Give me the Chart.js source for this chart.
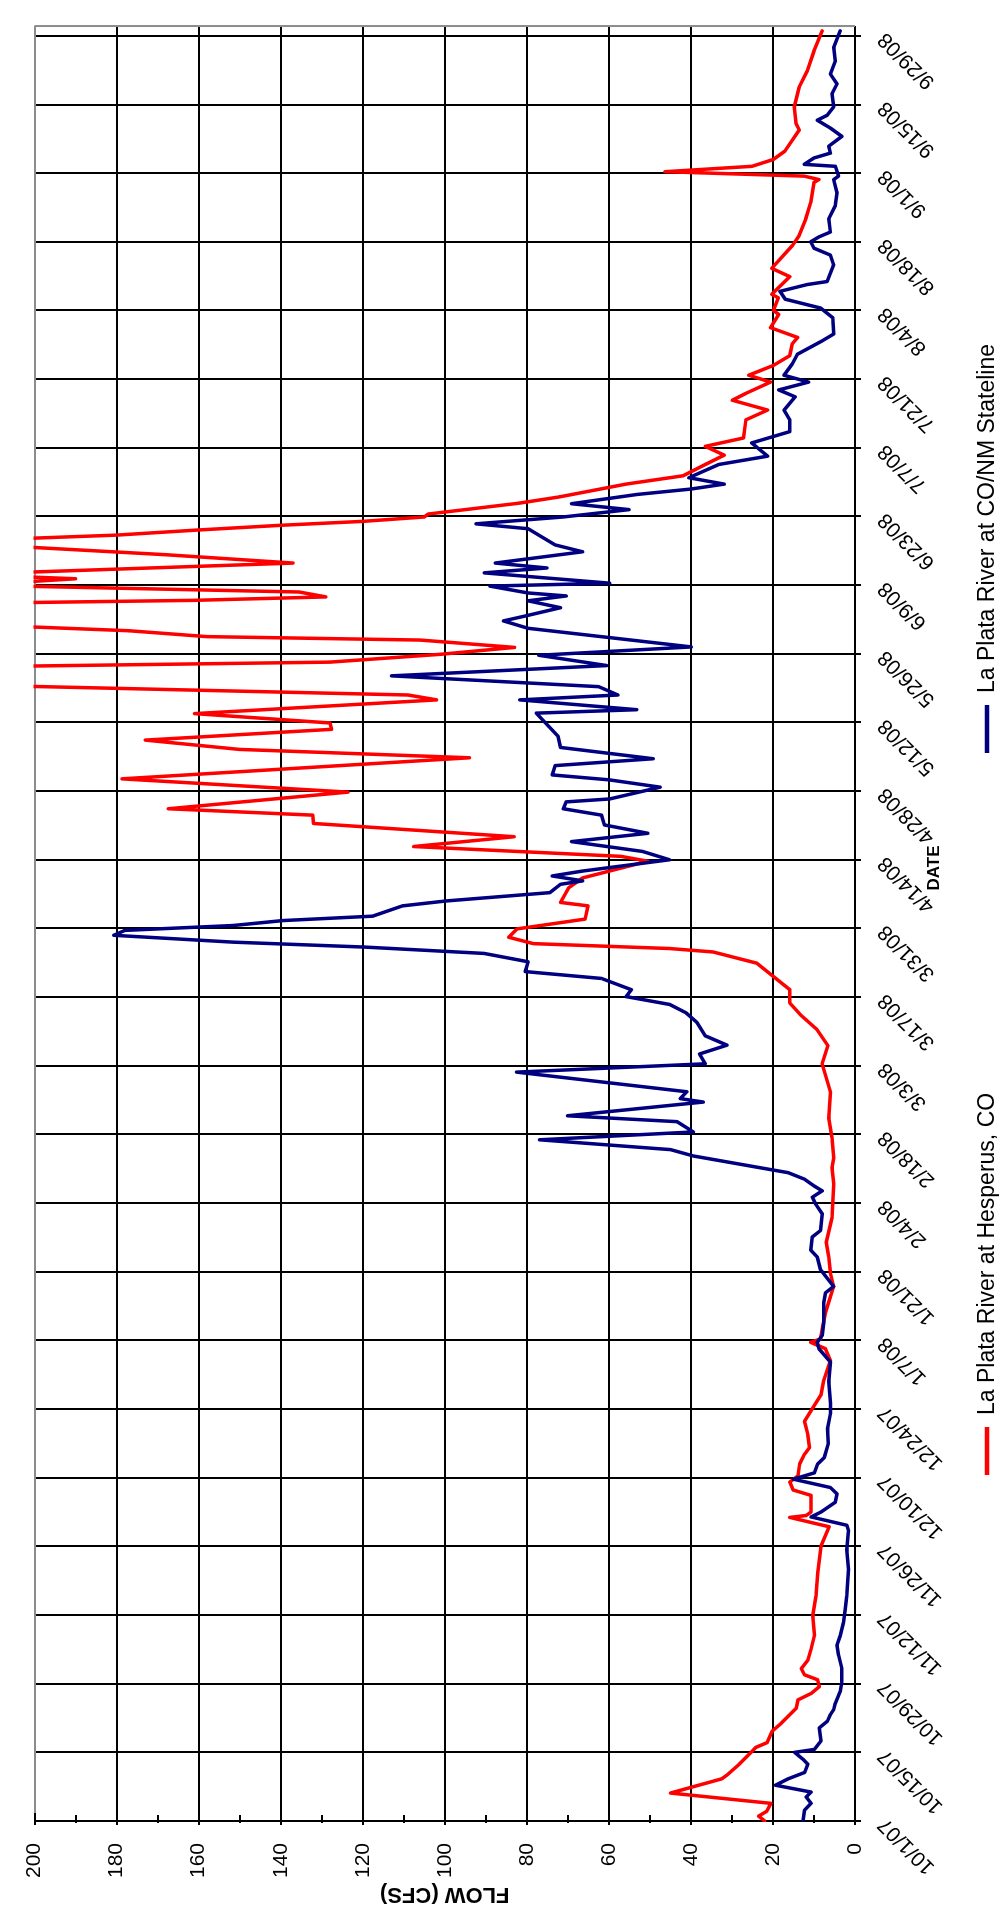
<!DOCTYPE html>
<html>
<head>
<meta charset="utf-8">
<script src="https://cdn.jsdelivr.net/npm/chart.js@4.4.1/dist/chart.umd.min.js"></script>
<style>
  html, body { margin: 0; padding: 0; background: #fff; overflow: hidden; }
  /* the chart is drawn landscape and turned a quarter turn to the left */
  #wrap { position: absolute; left: 0; top: 1913px; width: 1913px; height: 1005px;
          transform-origin: 0 0; transform: rotate(-90deg); }
</style>
</head>
<body>
<div id="wrap"><canvas id="flow-chart" width="1913" height="1005"></canvas></div>
<script>
// days counted from 10/1/07
const tickLabels = ["10/1/07", "10/15/07", "10/29/07", "11/12/07", "11/26/07", "12/10/07", "12/24/07",
  "1/7/08", "1/21/08", "2/4/08", "2/18/08", "3/3/08", "3/17/08", "3/31/08", "4/14/08", "4/28/08",
  "5/12/08", "5/26/08", "6/9/08", "6/23/08", "7/7/08", "7/21/08", "8/4/08", "8/18/08", "9/1/08",
  "9/15/08", "9/29/08"];

// La Plata River at Hesperus, CO
const hesperusDays = [
  0, 1, 2, 3.6, 5.7, 8.6, 9.3, 11.6, 14.3, 15,
  16, 18.3, 20, 23, 24.7, 26, 27.4, 28.8, 29.8, 31.1,
  32.8, 35.1, 37.8, 41.9, 45.9, 50.6, 56, 60, 61.9, 62.3,
  63, 66.4, 67.5, 69.1, 70.4, 72.8, 74.8, 76.1, 78.8, 81.5,
  84.8, 86.9, 89.9, 93.9, 96.3, 97.6, 98.3, 100.3, 103.7, 109,
  111.7, 115, 118, 123, 129.9, 133.2, 135.2, 139.3, 143.3, 148.7,
  154.4, 158.1, 161.4, 164.4, 166.8, 169.5, 172.2, 174.9, 177.2, 177.9,
  178.9, 180.2, 181.9, 183.9, 186.6, 187.3, 190.3, 192.3, 195.7, 196.7,
  198.7, 200.7, 203.4, 205.1, 206.4, 209.8, 212.5, 216.8, 218.5, 220.4,
  222.6, 223.9, 225.8, 228.6, 229.6, 232, 234, 235.4, 236.3, 237.9,
  239.3, 240.8, 241.5, 242.7, 244.5, 246.5, 248.3, 248.9, 249.6, 250.6,
  252, 253.3, 254, 254.6, 256.5, 258.2, 260.5, 261.4, 262.2, 263.2,
  264.2, 265, 265.9, 266.5, 268.7, 270, 272.6, 274.3, 276.3, 278.5,
  280.3, 282, 285.7, 287.7, 289.7, 291.1, 293.4, 294.8, 296.8, 298.8,
  301.2, 302.5, 304.5, 307.2, 308, 310.6, 311.3, 314.9, 316.6, 321.3,
  323.3, 326.7, 330, 334.1, 334.7, 335.4, 336.3, 337.4, 338.8, 340.5,
  344.8, 346.2, 349.5, 353.6, 356.9, 360.9, 365];
const hesperusFlow = [
  22, 23.5, 21.5, 20.5, 45, 32.5, 31.3, 28.2, 25, 24.2,
  21.4, 20.2, 17.9, 14.3, 13.9, 10.7, 8.7, 9.1, 12.3, 13.1,
  11.5, 10.7, 9.9, 10.3, 9.5, 9.1, 8.3, 6.3, 15.9, 11.9,
  10.7, 10.7, 15.1, 15.9, 13.9, 13.5, 12.3, 11.1, 11.5, 12.3,
  9.9, 8.3, 7.6, 6.0, 7.2, 10.8, 8.4, 8.0, 7.2, 5.2,
  6.0, 6.4, 7.0, 5.6, 5.2, 5.6, 5.2, 5.6, 6.4, 6.0,
  8.0, 6.6, 9.3, 13.3, 15.9, 15.9, 19.9, 23.9, 34.6, 45.2,
  78.4, 84.4, 82.4, 65.8, 65.1, 71.8, 69.8, 66.4, 50.5, 57.1,
  107.6, 83.1, 132, 132.2, 167.4, 123.6, 178.7, 94, 150, 173,
  127.6, 128, 161, 102, 109, 235, 228, 210, 128, 101,
  83, 106, 158, 177, 232, 238, 215, 161, 129, 135.5,
  215, 190, 212, 203, 137, 168, 218, 206, 180, 161,
  140, 120, 105, 104, 82, 72, 55.8, 41.9, 37.2, 31.9,
  36.5, 27.2, 26.6, 21.3, 29.9, 26.6, 20.6, 25.9, 19.9, 15.9,
  15.3, 14, 20.6, 18.6, 19.9, 18.7, 20.3, 15.9, 20.3, 15.2,
  13.6, 12, 10.8, 10, 8.8, 12.4, 46.3, 25.1, 19.9, 17.1,
  13.6, 14.4, 14.8, 13.6, 11.6, 10, 8];

// La Plata River at CO/NM Stateline
const statelineDays = [
  0, 2.2, 3.6, 4.9, 5.9, 7.3, 8.6, 9.9, 11.6, 12.6,
  14, 14.6, 16.3, 19, 20.4, 21.7, 22.7, 24, 26.4, 28.4,
  31.1, 33.8, 35.8, 37.8, 40.5, 43.2, 45.9, 51.3, 55.3, 59.3,
  60.3, 62, 63, 65, 66.7, 68, 69.7, 71, 72.8, 74.1,
  77, 80, 83, 85.2, 89.6, 93.6, 96.3, 97.6, 99, 101.6,
  105.7, 107.7, 109, 112.4, 115, 116.4, 119.1, 120.4, 123.8, 125.8,
  127.2, 128.5, 129.5, 130.9, 132.2, 135.6, 136.9, 138.9, 140.5, 142.6,
  143.8, 146.6, 147.3, 148.7, 152.7, 154.4, 156.4, 158.2, 160.1, 162.8,
  164.8, 166.5, 168.1, 169.5, 171.8, 173.2, 175.2, 176.9, 178.2, 179.2,
  180.6, 181.6, 182.6, 183.6, 184.5, 186.6, 187.6, 189.3, 191, 191.7,
  192.7, 193.7, 196, 197.7, 199.7, 201.4, 203.1, 205.1, 206.4, 207.8,
  208.4, 210.8, 212.3, 213.3, 215.2, 216.6, 218.9, 221.2, 225.9, 226.6,
  228.6, 229.6, 231.3, 233.5, 235.6, 237.7, 239.4, 243.2, 244.7, 245.7,
  247.4, 248.8, 249.8, 250.4, 251.8, 252.4, 254.5, 255.5, 256.5, 258.8,
  260.2, 263.5, 264.5, 265.9, 267.4, 268.6, 270.5, 271.6, 272.6, 273.9,
  276.6, 278.3, 281, 283.3, 285.7, 287.7, 290.4, 291.8, 293.4, 294.8,
  297.1, 299.1, 301.8, 303.2, 306.5, 308.5, 310.3, 311.9, 313.3, 313.9,
  317.3, 319.3, 320.7, 322, 323, 324, 326.7, 329.4, 332, 334.7,
  335.4, 337.4, 337.8, 339.1, 340.1, 341.5, 343.5, 345.2, 346.8, 347.8,
  349.5, 352.2, 354.2, 356.2, 358.9, 361.6, 365];
const statelineFlow = [
  12.7, 12.3, 10.7, 11.9, 10.7, 19.4, 16.3, 12.3, 11.5, 12.7,
  14.7, 9.9, 8.3, 8.7, 6.7, 6.0, 5.2, 4.8, 3.6, 3.2,
  3.2, 4.0, 4.4, 3.6, 2.8, 2.4, 2.0, 1.6, 2.0, 1.6,
  2.0, 10.7, 8.3, 4.8, 4.4, 6.0, 15, 9.9, 9.1, 7.5,
  6.5, 6.7, 6.0, 6.0, 6.4, 6.0, 8.8, 9.2, 8.0, 7.6,
  7.6, 7.2, 5.2, 8.4, 9.2, 10.8, 10.4, 8.4, 8.0, 9.6,
  10.4, 8.0, 10, 12.4, 16.3, 39.4, 45, 76.9, 39.4, 43.4,
  70.1, 37, 42.6, 41, 82.5, 36.5, 37.9, 31.2, 36.5, 38.5,
  41.2, 45.2, 55.8, 54.5, 61.8, 80.4, 79.7, 90.4, 119.6, 151.5,
  180.7, 178, 151.5, 139.5, 117.6, 110.3, 99.7, 74.4, 71.8, 66.4,
  73.8, 66.4, 45.2, 51.8, 69.1, 50.5, 61.1, 61.8, 71.1, 70.4,
  59.8, 47.5, 60, 73.8, 73.1, 49.2, 71.8, 72.4, 77.7, 53.2,
  81.7, 57.8, 62.5, 113, 60.5, 77.1, 39.9, 79.7, 85.7, 80.4,
  71.8, 79.7, 70.4, 79.7, 89, 59.8, 90.4, 75.1, 87.7, 66.4,
  73.1, 79.7, 92.4, 71.1, 55.1, 69.1, 53, 39.9, 31.9, 40.5,
  33.2, 21.3, 25.2, 15.9, 15.9, 17.3, 14.6, 18.6, 11.3, 17.3,
  15.3, 14, 8, 5.2, 5.4, 8.4, 17, 18.3, 11.6, 6.8,
  5.2, 6, 10, 10.8, 8.8, 6, 6.4, 4.8, 4.4, 5.2,
  4, 4.8, 12.4, 10, 6, 6.4, 3.2, 6, 9.2, 6.8,
  5.2, 5.6, 4.4, 6, 4.8, 5.2, 3.6];

const font = "'Liberation Sans', Arial, sans-serif";

function toPoints(days, flow) {
  return days.map((d, i) => ({ x: d, y: flow[i] }));
}

// ticks that cross the axes, the grey frame, the legend and the DATE title
const framePlugin = {
  id: "frame",
  afterDraw(chart) {
    const ctx = chart.ctx;
    const x = chart.scales.x;
    const y = chart.scales.y;
    const area = chart.chartArea;
    ctx.save();

    ctx.strokeStyle = "#8c8c8c";
    ctx.lineWidth = 2;
    ctx.beginPath();
    ctx.moveTo(x.getPixelForValue(366), area.top);
    ctx.lineTo(x.getPixelForValue(366), area.bottom);
    ctx.stroke();

    ctx.strokeStyle = "#000";
    ctx.beginPath();
    for (let v = 0; v <= 200; v += 10) {
      const py = Math.round(y.getPixelForValue(v));
      const major = v % 20 === 0;
      ctx.moveTo(area.left - (major ? 4 : 2), py);
      ctx.lineTo(area.left + (major ? 8 : 6), py);
    }
    for (let d = 0; d <= 364; d += 14) {
      const px = Math.round(x.getPixelForValue(d));
      ctx.moveTo(px, area.bottom);
      ctx.lineTo(px, area.bottom + 6);
    }
    ctx.stroke();

    ctx.fillStyle = "#000";
    ctx.font = "bold 17px " + font;
    ctx.textAlign = "center";
    ctx.textBaseline = "middle";
    ctx.fillText("DATE", 1045, 934);

    const items = [
      { x: 438, label: chart.data.datasets[1].label, color: chart.data.datasets[1].borderColor },
      { x: 1160, label: chart.data.datasets[0].label, color: chart.data.datasets[0].borderColor }
    ];
    ctx.font = "23px " + font;
    ctx.textAlign = "left";
    items.forEach((it) => {
      ctx.strokeStyle = it.color;
      ctx.lineWidth = 4.5;
      ctx.beginPath();
      ctx.moveTo(it.x, 987);
      ctx.lineTo(it.x + 48, 987);
      ctx.stroke();
      ctx.fillText(it.label, it.x + 60, 988);
    });
    ctx.restore();
  }
};

new Chart(document.getElementById("flow-chart").getContext("2d"), {
  type: "line",
  data: {
    datasets: [
      {
        label: "La Plata River at CO/NM Stateline",
        data: toPoints(statelineDays, statelineFlow),
        borderColor: "#000080",
        order: 0
      },
      {
        label: "La Plata River at Hesperus, CO",
        data: toPoints(hesperusDays, hesperusFlow),
        borderColor: "#ff0000",
        order: 1
      }
    ]
  },
  options: {
    responsive: false,
    animation: false,
    devicePixelRatio: 1,
    layout: { padding: { top: 19, right: 5, left: 0, bottom: 0 } },
    elements: {
      line: { borderWidth: 3.5, tension: 0, borderJoinStyle: "round", borderCapStyle: "round" },
      point: { radius: 0 }
    },
    datasets: { line: { clip: 1 } },
    plugins: { legend: { display: false }, tooltip: { enabled: false } },
    scales: {
      x: {
        type: "linear",
        min: 0,
        max: 366,
        afterFit: (s) => { s.height = 150; },
        border: { display: false },
        grid: { color: "#000", lineWidth: 2, drawTicks: false },
        ticks: {
          stepSize: 14,
          includeBounds: false,
          autoSkip: false,
          minRotation: 45,
          maxRotation: 45,
          padding: 18,
          color: "#000",
          font: { family: font, size: 21 },
          callback: (v) => tickLabels[v / 14]
        }
      },
      y: {
        min: 0,
        max: 200,
        afterFit: (s) => { s.width = 92; },
        border: { display: false },
        grid: {
          color: (c) => (c.tick && c.tick.value === 200 ? "#8c8c8c" : "#000"),
          lineWidth: 2,
          drawTicks: false
        },
        ticks: { stepSize: 20, padding: 22, color: "#000", font: { family: font, size: 21 } },
        title: {
          display: true,
          text: "FLOW (CFS)",
          color: "#000",
          font: { family: font, size: 22, weight: "bold" },
          padding: { top: 6, bottom: 0 }
        }
      }
    }
  },
  plugins: [framePlugin]
});
</script>
</body>
</html>
